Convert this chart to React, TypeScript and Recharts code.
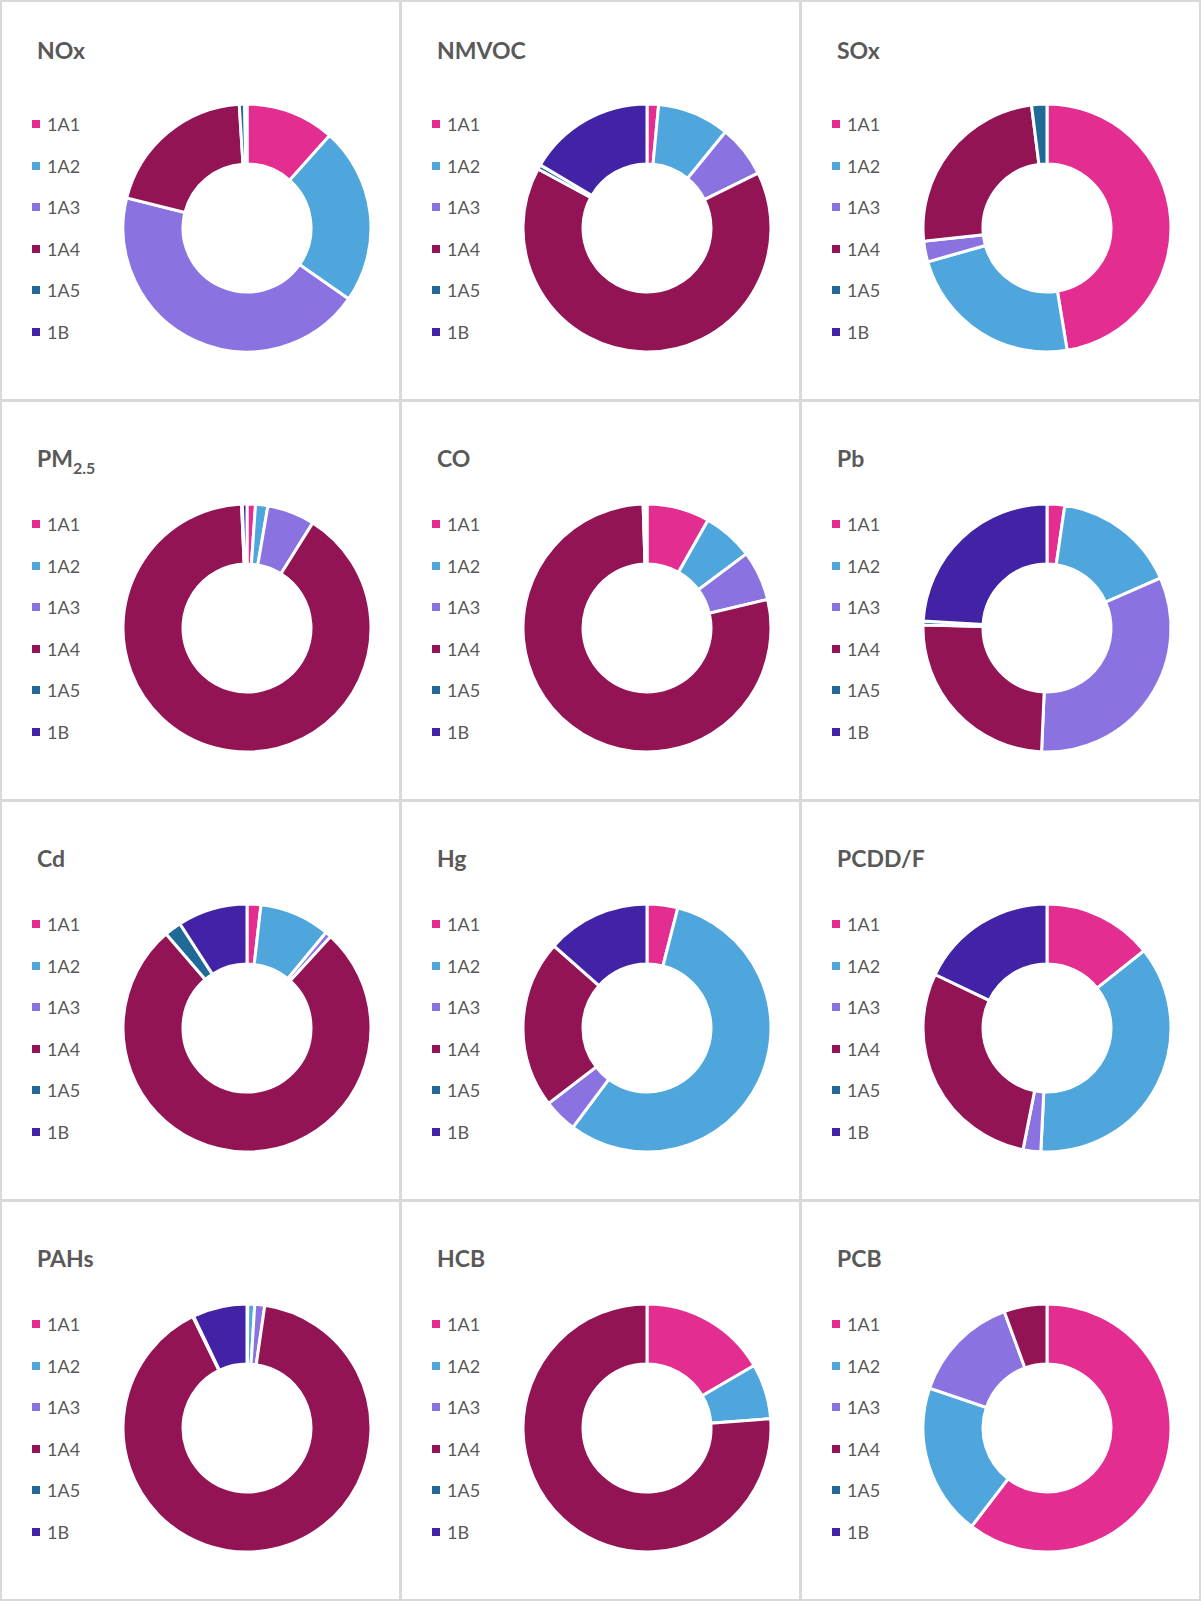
import React from 'react';
import { PieChart, Pie, Cell } from 'recharts';

// source categories, same order in every donut
const categories = ['1A1', '1A2', '1A3', '1A4', '1A5', '1B'];
const sliceColors = ['#E32D91', '#4EA6DC', '#8A73E0', '#921454', '#1F6A96', '#4223A6'];

// shares in % (clockwise from 12 o'clock)
const noxShares = [11.6, 23.1, 44.2, 20.1, 0.7, 0.3];
const nmvocShares = [1.5, 9.4, 6.8, 65.2, 0.6, 16.5];
const soxShares = [47.4, 23.2, 2.7, 24.7, 2.0, 0];
const pm25Shares = [1.1, 1.6, 6.2, 90.4, 0.1, 0.6];
const coShares = [8.2, 6.6, 6.5, 78.2, 0.2, 0.3];
const pbShares = [2.3, 16.1, 32.3, 24.7, 0.5, 24.1];
const cdShares = [1.8, 9.2, 0.8, 76.9, 2.2, 9.1];
const hgShares = [4.0, 56.2, 4.4, 21.9, 0, 13.5];
const pcddfShares = [14.3, 36.5, 2.3, 29.0, 0, 17.9];
const pahShares = [0.1, 0.9, 1.3, 90.5, 0.1, 7.1];
const hcbShares = [16.6, 7.2, 0, 76.2, 0, 0];
const pcbShares = [60.4, 19.8, 14.2, 5.6, 0, 0];

const panels = [
  { title: 'NOx', values: noxShares },
  { title: 'NMVOC', values: nmvocShares },
  { title: 'SOx', values: soxShares },
  { title: 'PM', sub: '2.5', values: pm25Shares },
  { title: 'CO', values: coShares },
  { title: 'Pb', values: pbShares },
  { title: 'Cd', values: cdShares },
  { title: 'Hg', values: hgShares },
  { title: 'PCDD/F', values: pcddfShares },
  { title: 'PAHs', values: pahShares },
  { title: 'HCB', values: hcbShares },
  { title: 'PCB', values: pcbShares },
];

const textColor = '#595959';
const fontFamily = 'Lato, "Open Sans", sans-serif';
const legendRows = [124, 165.5, 207, 248.5, 290, 331.5];

const Panel: React.FC<{ title: string; sub?: string; values: number[]; row: number; col: number }> = ({ title, sub, values, row, col }) => {
  const data = categories.map((name, i) => ({ name, value: values[i] }));
  const left = col * 400;
  const top = row * 400;

  return (
    <div
      style={{
        position: 'absolute',
        left,
        top,
        width: 401,
        height: 401,
        border: '2px solid #d9d9d9',
        boxSizing: 'border-box',
        fontFamily,
        color: textColor,
      }}
    >
      <div style={{ position: 'absolute', left: -2, top: -2, width: 400, height: 400 }}>
        {/* title */}
        <div
          style={{
            position: 'absolute',
            left: 37,
            top: row === 0 ? 38.6 : 46.6,
            fontSize: 23,
            lineHeight: '23px',
            fontWeight: 700,
            whiteSpace: 'nowrap',
          }}
        >
          {title}
          {sub && <span style={{ fontSize: 16, position: 'relative', top: 7 }}>{sub}</span>}
        </div>

        {/* legend */}
        {categories.map((name, i) => (
          <div
            key={name}
            style={{ position: 'absolute', left: 32, top: legendRows[i] - 10, height: 20, display: 'flex', alignItems: 'center' }}
          >
            <div style={{ width: 8, height: 8, background: sliceColors[i] }} />
            <span style={{ marginLeft: 7, fontSize: 18, lineHeight: '20px' }}>{name}</span>
          </div>
        ))}

        <div style={{ position: 'absolute', left: 0, top: 0 }}>
          <PieChart width={400} height={400} margin={{ top: 0, right: 0, bottom: 0, left: 0 }}>
            <Pie
              data={data}
              dataKey="value"
              nameKey="name"
              cx={247}
              cy={228}
              innerRadius={64}
              outerRadius={124}
              startAngle={90}
              endAngle={-270}
              stroke="#ffffff"
              strokeWidth={3}
              label={false}
              labelLine={false}
              isAnimationActive={false}
            >
              {data.map((d, i) => (
                <Cell key={d.name} fill={sliceColors[i]} />
              ))}
            </Pie>
          </PieChart>
        </div>
      </div>
    </div>
  );
};

const App: React.FC = () => {
  return (
    <div style={{ position: 'absolute', left: 0, top: 0, width: 1201, height: 1601, background: '#ffffff' }}>
      {panels.map((p, idx) => (
        <Panel key={p.title} title={p.title} sub={p.sub} values={p.values} row={Math.floor(idx / 3)} col={idx % 3} />
      ))}
    </div>
  );
};

export default App;
